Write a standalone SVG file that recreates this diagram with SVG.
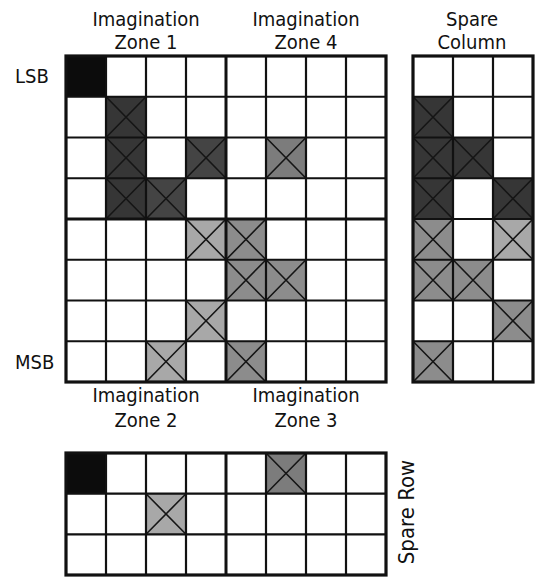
<svg xmlns="http://www.w3.org/2000/svg" width="536" height="578" viewBox="0 0 536 578">
<style>
text{font-family:"DejaVu Sans Condensed","DejaVu Sans",sans-serif;font-size:20px;fill:#111}
.lbl{text-anchor:middle}
.k{fill:#0c0c0c}
.d{fill:#363636}
.d2{fill:#444444}
.m{fill:#7c7c7c}
.g{fill:#8c8c8c}
.l{fill:#a8a8a8}
.x{stroke:#151515;stroke-width:1.6;fill:none}
.grid{stroke:#111;stroke-width:2.2;fill:none}
.zone{stroke:#111;stroke-width:3;fill:none}
.outer{stroke:#111;stroke-width:3.2;fill:none}
</style>

<g id="labels">
  <text class="lbl" x="146" y="26">Imagination</text>
  <text class="lbl" x="146" y="49">Zone 1</text>
  <text class="lbl" x="306" y="26">Imagination</text>
  <text class="lbl" x="306" y="49">Zone 4</text>
  <text class="lbl" x="472" y="26">Spare</text>
  <text class="lbl" x="472" y="49">Column</text>
  <text x="15" y="83">LSB</text>
  <text x="15" y="369">MSB</text>
  <text class="lbl" x="146" y="402">Imagination</text>
  <text class="lbl" x="146" y="427">Zone 2</text>
  <text class="lbl" x="306" y="402">Imagination</text>
  <text class="lbl" x="306" y="427">Zone 3</text>
  <text class="lbl" style="font-size:22px" transform="translate(414,512) rotate(-90)">Spare Row</text>
</g>

<g id="main-array">
  <rect class="k" x="66" y="56" width="40" height="40.75"/>
  <rect class="d" x="106" y="96.75" width="40" height="40.75"/>
  <path class="x" d="M106 96.75L146 137.5M146 96.75L106 137.5"/>
  <rect class="d" x="106" y="137.5" width="40" height="40.75"/>
  <path class="x" d="M106 137.5L146 178.25M146 137.5L106 178.25"/>
  <rect class="d2" x="186" y="137.5" width="40" height="40.75"/>
  <path class="x" d="M186 137.5L226 178.25M226 137.5L186 178.25"/>
  <rect class="m" x="266" y="137.5" width="40" height="40.75"/>
  <path class="x" d="M266 137.5L306 178.25M306 137.5L266 178.25"/>
  <rect class="d" x="106" y="178.25" width="40" height="40.75"/>
  <path class="x" d="M106 178.25L146 219M146 178.25L106 219"/>
  <rect class="d2" x="146" y="178.25" width="40" height="40.75"/>
  <path class="x" d="M146 178.25L186 219M186 178.25L146 219"/>
  <rect class="l" x="186" y="219" width="40" height="40.75"/>
  <path class="x" d="M186 219L226 259.75M226 219L186 259.75"/>
  <rect class="g" x="226" y="219" width="40" height="40.75"/>
  <path class="x" d="M226 219L266 259.75M266 219L226 259.75"/>
  <rect class="g" x="226" y="259.75" width="40" height="40.75"/>
  <path class="x" d="M226 259.75L266 300.5M266 259.75L226 300.5"/>
  <rect class="g" x="266" y="259.75" width="40" height="40.75"/>
  <path class="x" d="M266 259.75L306 300.5M306 259.75L266 300.5"/>
  <rect class="l" x="186" y="300.5" width="40" height="40.75"/>
  <path class="x" d="M186 300.5L226 341.25M226 300.5L186 341.25"/>
  <rect class="l" x="146" y="341.25" width="40" height="40.75"/>
  <path class="x" d="M146 341.25L186 382M186 341.25L146 382"/>
  <rect class="g" x="226" y="341.25" width="40" height="40.75"/>
  <path class="x" d="M226 341.25L266 382M266 341.25L226 382"/>
  <path class="grid" d="M106 56V382M146 56V382M186 56V382M266 56V382M306 56V382M346 56V382
    M66 96.75H386M66 137.5H386M66 178.25H386M66 259.75H386M66 300.5H386M66 341.25H386"/>
  <path class="zone" d="M226 56V382M66 219H386"/>
  <rect class="outer" x="66" y="56" width="320" height="326"/>
</g>

<g id="spare-column">
  <rect class="d" x="413" y="96.75" width="40" height="40.75"/>
  <path class="x" d="M413 96.75L453 137.5M453 96.75L413 137.5"/>
  <rect class="d" x="413" y="137.5" width="40" height="40.75"/>
  <path class="x" d="M413 137.5L453 178.25M453 137.5L413 178.25"/>
  <rect class="d" x="453" y="137.5" width="40" height="40.75"/>
  <path class="x" d="M453 137.5L493 178.25M493 137.5L453 178.25"/>
  <rect class="d" x="413" y="178.25" width="40" height="40.75"/>
  <path class="x" d="M413 178.25L453 219M453 178.25L413 219"/>
  <rect class="d" x="493" y="178.25" width="40" height="40.75"/>
  <path class="x" d="M493 178.25L533 219M533 178.25L493 219"/>
  <rect class="g" x="413" y="219" width="40" height="40.75"/>
  <path class="x" d="M413 219L453 259.75M453 219L413 259.75"/>
  <rect class="l" x="493" y="219" width="40" height="40.75"/>
  <path class="x" d="M493 219L533 259.75M533 219L493 259.75"/>
  <rect class="g" x="413" y="259.75" width="40" height="40.75"/>
  <path class="x" d="M413 259.75L453 300.5M453 259.75L413 300.5"/>
  <rect class="g" x="453" y="259.75" width="40" height="40.75"/>
  <path class="x" d="M453 259.75L493 300.5M493 259.75L453 300.5"/>
  <rect class="g" x="493" y="300.5" width="40" height="40.75"/>
  <path class="x" d="M493 300.5L533 341.25M533 300.5L493 341.25"/>
  <rect class="g" x="413" y="341.25" width="40" height="40.75"/>
  <path class="x" d="M413 341.25L453 382M453 341.25L413 382"/>
  <path class="grid" d="M453 56V382M493 56V382
    M413 96.75H533M413 137.5H533M413 178.25H533M413 219H533M413 259.75H533M413 300.5H533M413 341.25H533"/>
  <rect class="outer" x="413" y="56" width="120" height="326"/>
</g>

<g id="spare-row">
  <rect class="k" x="66" y="453" width="40" height="40.7"/>
  <rect class="m" x="266" y="453" width="40" height="40.7"/>
  <path class="x" d="M266 453L306 493.7M306 453L266 493.7"/>
  <rect class="l" x="146" y="493.7" width="40" height="40.6"/>
  <path class="x" d="M146 493.7L186 534.3M186 493.7L146 534.3"/>
  <path class="grid" d="M106 453V575M146 453V575M186 453V575M266 453V575M306 453V575M346 453V575
    M66 493.7H386M66 534.3H386"/>
  <path class="zone" d="M226 453V575"/>
  <rect class="outer" x="66" y="453" width="320" height="122"/>
</g>
</svg>
